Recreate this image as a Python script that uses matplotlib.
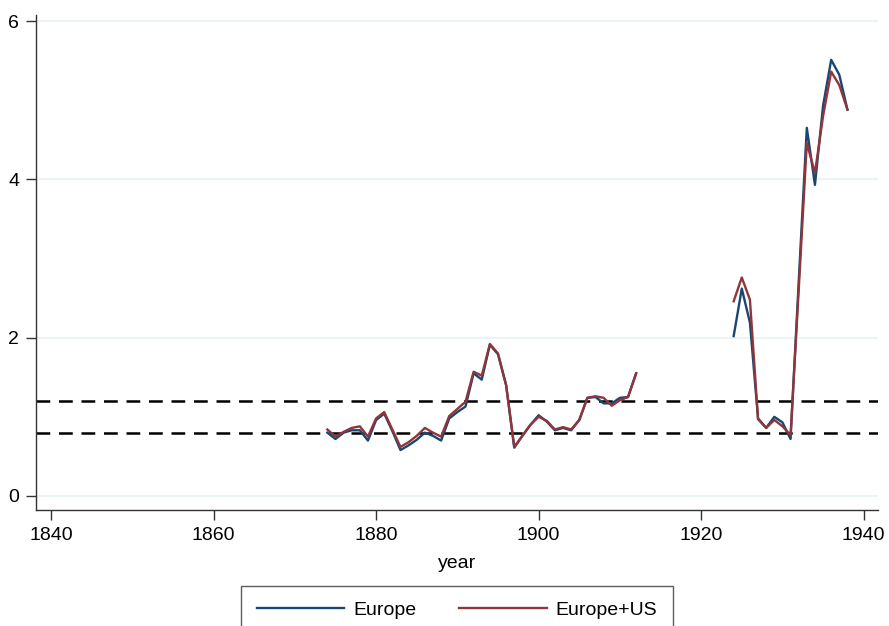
import numpy as np
import matplotlib
matplotlib.use("Agg")
import matplotlib.pyplot as plt

plt.rcParams['font.family'] = ['Liberation Sans', 'DejaVu Sans']

years = list(range(1874, 1913)) + [np.nan] + list(range(1924, 1939))
europe = [0.80, 0.72, 0.80, 0.83, 0.83, 0.70, 0.96, 1.04, 0.82, 0.58,
          0.64, 0.71, 0.80, 0.76, 0.70, 0.98, 1.06, 1.13, 1.55, 1.47,
          1.91, 1.79, 1.40, 0.61, 0.76, 0.90, 1.02, 0.94, 0.83, 0.86,
          0.83, 0.96, 1.24, 1.25, 1.17, 1.17, 1.24, 1.25, 1.55,
          np.nan,
          2.02, 2.62, 2.19, 0.98, 0.86, 1.00, 0.93, 0.72, 2.70, 4.65,
          3.93, 4.93, 5.51, 5.32, 4.88]
europe_us = [0.84, 0.75, 0.81, 0.86, 0.88, 0.75, 0.98, 1.06, 0.84, 0.62,
             0.68, 0.76, 0.86, 0.80, 0.75, 1.01, 1.10, 1.19, 1.57, 1.52,
             1.92, 1.80, 1.40, 0.62, 0.76, 0.90, 1.00, 0.95, 0.84, 0.87,
             0.84, 0.96, 1.24, 1.26, 1.24, 1.14, 1.21, 1.25, 1.55,
             np.nan,
             2.46, 2.76, 2.48, 0.97, 0.86, 0.96, 0.88, 0.77, 2.60, 4.46,
             4.08, 4.80, 5.36, 5.19, 4.88]
bands = [1.2, 0.8]
xticks = [1840, 1860, 1880, 1900, 1920, 1940]
yticks = [0, 2, 4, 6]

fig = plt.figure(figsize=(8.89, 6.26), dpi=100)
ax = fig.add_axes([36/889, 1-510/626, (878-36)/889, (510-15)/626])

for t in yticks:
    ax.axhline(t, color='#eaf2f3', lw=1.2, zorder=0)
for b in bands:
    ax.axhline(b, color='black', lw=1.8, dashes=(5.5, 3.5), zorder=1)

ax.plot(years, europe, color='#1a476f', lw=1.7, label='Europe', zorder=3)
ax.plot(years, europe_us, color='#90353b', lw=1.7, label='Europe+US', zorder=4)

ax.set_xlim(1838.15, 1941.76)
ax.set_ylim(-0.177, 6.076)
ax.set_xticks(xticks)
ax.set_yticks(yticks)
ax.tick_params(labelsize=14, length=7, width=1, color='#333333', pad=5)
for s in ['top', 'right']:
    ax.spines[s].set_visible(False)
for s in ['left', 'bottom']:
    ax.spines[s].set_color('#333333')
    ax.spines[s].set_linewidth(1)
ax.set_xlabel('year', fontsize=14, labelpad=8)

fig.legend(loc='upper center', bbox_to_anchor=(457/889, 1-586/626), ncol=2,
           fontsize=14, handlelength=4.5, columnspacing=2.2, frameon=True,
           fancybox=False, edgecolor='#333333', borderpad=0.8,
           handletextpad=0.45, borderaxespad=0)

fig.savefig('out.png', dpi=100)
